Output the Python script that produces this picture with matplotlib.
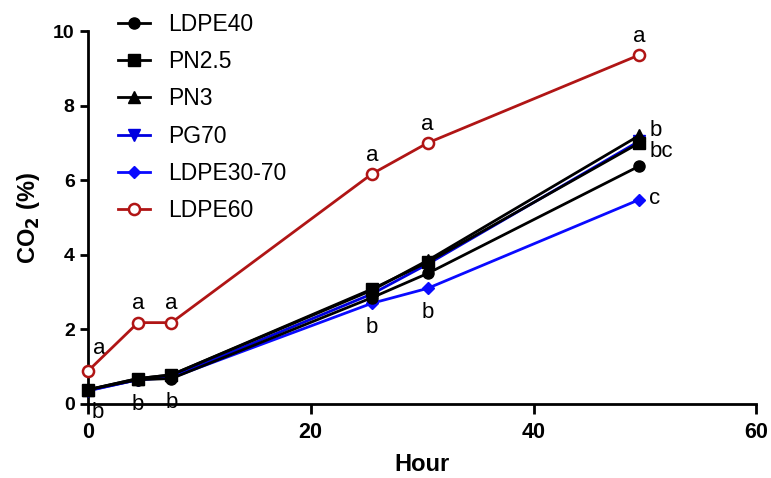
import matplotlib.pyplot as plt

plt.rcParams['font.family'] = ['Liberation Sans', 'DejaVu Sans']

hours = [0, 4.5, 7.5, 25.5, 30.5, 49.5]
ldpe40 = [0.38, 0.65, 0.68, 2.85, 3.5, 6.38]
pn25 = [0.38, 0.68, 0.78, 3.08, 3.8, 7.0]
pn3 = [0.38, 0.68, 0.78, 3.05, 3.85, 7.2]
pg70 = [0.35, 0.65, 0.72, 2.95, 3.75, 7.05]
ldpe3070 = [0.36, 0.65, 0.7, 2.7, 3.1, 5.48]
ldpe60 = [0.88, 2.18, 2.18, 6.17, 7.0, 9.36]

letters_top = ['a', 'a', 'a', 'a', 'a', 'a']
letters_low = ['b', 'b', 'b', 'b', 'b']
letters_end = [('b', 7.32), ('bc', 6.76), ('c', 5.5)]

fig = plt.figure(figsize=(7.71, 4.78), dpi=100)
ax = fig.add_axes([0.114, 0.155, 0.867, 0.78])

kw = dict(lw=2, ms=8, clip_on=False)
ax.plot(hours, ldpe40, color='black', marker='o', label='LDPE40', zorder=4, **kw)
ax.plot(hours, pn25, color='black', marker='s', label='PN2.5', zorder=4, **kw)
ax.plot(hours, pn3, color='black', marker='^', label='PN3', zorder=4, **kw)
ax.plot(hours, pg70, color='#0000e0', marker='v', label='PG70', zorder=3, **kw)
ax.plot(hours, ldpe3070, color='#0a0aff', marker='D', ms=6, lw=2,
        clip_on=False, zorder=3, label='LDPE30-70')
ax.plot(hours, ldpe60, color='#b01515', marker='o', mfc='white', mew=1.8,
        label='LDPE60', zorder=4, **kw)

# significance letters
for i, (x, y, t) in enumerate(zip(hours, ldpe60, letters_top)):
    off = (8, 9) if i == 0 else (0, 6)
    ax.annotate(t, (x, y), xytext=off, textcoords='offset points',
                ha='center', va='bottom', fontsize=16)
for i, (x, y, t) in enumerate(zip(hours[:5], ldpe3070[:5], letters_low)):
    if i == 0:
        ax.annotate(t, (x, 0), xytext=(7, -6), textcoords='offset points',
                    ha='center', va='center', fontsize=16)
    else:
        ax.annotate(t, (x, y), xytext=(0, -10), textcoords='offset points',
                    ha='center', va='top', fontsize=16)
for t, y in letters_end:
    ax.annotate(t, (hours[-1], y), xytext=(7, 0), textcoords='offset points',
                ha='left', va='center', fontsize=16)

ax.set_xlim(0, 60)
ax.set_ylim(0, 10)
ax.set_xticks([0, 20, 40, 60])
ax.set_yticks([0, 2, 4, 6, 8, 10])
ax.spines['top'].set_visible(False)
ax.spines['right'].set_visible(False)
for s in ['left', 'bottom']:
    ax.spines[s].set_linewidth(2)
ax.tick_params(axis='y', width=2, length=6, labelsize=14)
ax.tick_params(axis='x', width=2, length=7, labelsize=15.5, pad=6)
for lab in ax.get_xticklabels() + ax.get_yticklabels():
    lab.set_fontweight('bold')
ax.set_xlabel('Hour', fontsize=17, fontweight='bold', labelpad=7)
ax.set_ylabel('CO$_\\mathbf{2}$ (%)', fontsize=17, fontweight='bold', labelpad=8)

fig.legend(loc='upper left', bbox_to_anchor=(0.126, 1.016), frameon=False,
           fontsize=16.5, handlelength=1.4, handletextpad=0.8, labelspacing=0.62)

fig.savefig('out.png')
